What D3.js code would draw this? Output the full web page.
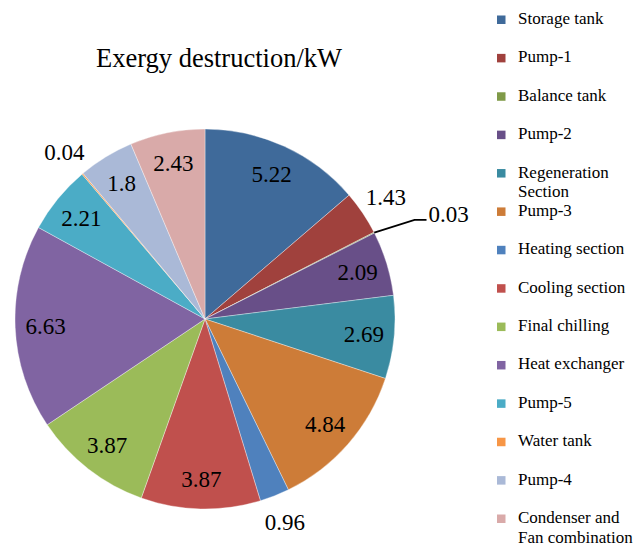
<!DOCTYPE html>
<html>
<head>
<meta charset="utf-8">
<script src="https://cdn.jsdelivr.net/npm/d3@7"></script>
<style>
  html, body { margin: 0; padding: 0; background: #fff; }
  svg { display: block; }
</style>
</head>
<body>
<svg id="chart" width="637" height="545"></svg>
<script>
// ---- data ----
const categories = ["Storage tank", "Pump-1", "Balance tank", "Pump-2", "Regeneration Section",
  "Pump-3", "Heating section", "Cooling section", "Final chilling", "Heat exchanger",
  "Pump-5", "Water tank", "Pump-4", "Condenser and Fan combination"];
const values = [5.22, 1.43, 0.03, 2.09, 2.69, 4.84, 0.96, 3.87, 3.87, 6.63, 2.21, 0.04, 1.8, 2.43];
const valueLabels = ["5.22", "1.43", "0.03", "2.09", "2.69", "4.84", "0.96", "3.87", "3.87", "6.63", "2.21", "0.04", "1.8", "2.43"];
const legendLines = [["Storage tank"], ["Pump-1"], ["Balance tank"], ["Pump-2"], ["Regeneration", "Section"],
  ["Pump-3"], ["Heating section"], ["Cooling section"], ["Final chilling"], ["Heat exchanger"],
  ["Pump-5"], ["Water tank"], ["Pump-4"], ["Condenser and", "Fan combination"]];
const colors = ["#3F6A9A", "#A0413D", "#7F9A48", "#684F88", "#3A8BA1", "#CD7C38", "#4F81BD",
  "#C0504D", "#9BBB59", "#8064A2", "#4BACC6", "#F79646", "#AAB9D7", "#D9AAA9"];
const titleText = "Exergy destruction/kW";

// ---- layout ----
const svg = d3.select("#chart");
const cx = 205, cy = 319, R = 190;
const FONT = "Liberation Serif";

svg.append("text")
  .attr("x", 219).attr("y", 67)
  .attr("text-anchor", "middle")
  .attr("font-family", FONT)
  .attr("font-size", 26.5)
  .attr("fill", "#000")
  .text(titleText);

const color = d3.scaleOrdinal().domain(categories).range(colors);
const pie = d3.pie().sort(null).value(d => d.value);
const data = categories.map((c, i) => ({ cat: c, value: values[i], label: valueLabels[i] }));
const arcs = pie(data);
const arc = d3.arc().innerRadius(0).outerRadius(R);
const labelArc = d3.arc().innerRadius(R * 0.84).outerRadius(R * 0.84);
const outArc = d3.arc().innerRadius(R + 28).outerRadius(R + 28);

const g = svg.append("g").attr("transform", `translate(${cx},${cy})`);
g.selectAll("path.slice").data(arcs).join("path")
  .attr("class", "slice")
  .attr("d", arc)
  .attr("fill", d => color(d.data.cat))
  .attr("stroke", "#ffffff")
  .attr("stroke-opacity", 0.6)
  .attr("stroke-width", 0.6);

const mid = d => (d.startAngle + d.endAngle) / 2;
const leaderCats = ["Balance tank"];

arcs.forEach(d => {
  const v = d.data.value;
  if (leaderCats.includes(d.data.cat)) {
    const a = mid(d);
    const p0 = [R * Math.sin(a), -R * Math.cos(a)];
    const a2 = a + 0.03;
    const p1 = [R * 1.22 * Math.sin(a2), -R * 1.22 * Math.cos(a2)];
    const p2 = [p1[0] + 12, p1[1]];
    g.append("polyline")
      .attr("points", [p0, p1, p2].map(p => p.join(",")).join(" "))
      .attr("fill", "none").attr("stroke", "#000").attr("stroke-width", 1.8);
    g.append("text")
      .attr("x", p2[0] + 2).attr("y", p2[1] + 2)
      .attr("font-family", FONT)
      .attr("font-size", 23).attr("fill", "#000")
      .text(d.data.label);
  } else {
    const c = v < 1.5 ? outArc.centroid(d) : labelArc.centroid(d);
    g.append("text")
      .attr("x", c[0]).attr("y", c[1])
      .attr("dy", "0.35em")
      .attr("text-anchor", "middle")
      .attr("font-family", FONT)
      .attr("font-size", 23).attr("fill", "#000")
      .text(d.data.label);
  }
});

// ---- legend ----
const ly = d3.scalePoint().domain(categories).range([24, 523]);
const leg = svg.append("g");
categories.forEach((c, i) => {
  const y = ly(c);
  leg.append("rect")
    .attr("x", 497).attr("y", y - 8.5).attr("width", 8.5).attr("height", 8.5)
    .attr("fill", color(c));
  legendLines[i].forEach((line, j) => {
    leg.append("text")
      .attr("x", 518).attr("y", y + j * 19.5)
      .attr("font-family", FONT)
      .attr("font-size", 17).attr("fill", "#000")
      .text(line);
  });
});
</script>
</body>
</html>
